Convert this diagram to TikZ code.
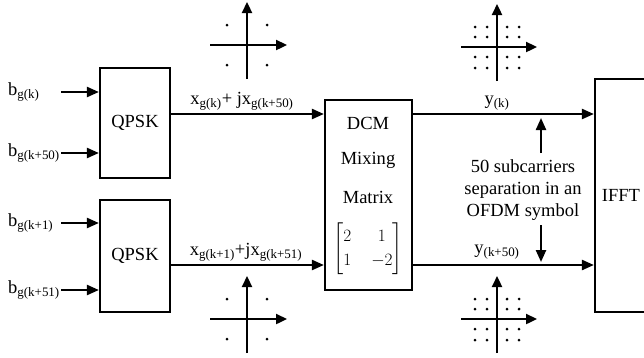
\documentclass[tikz,border=0pt]{standalone}
\usepackage{fontspec}
\setmainfont{Liberation Serif}
\usepackage{amsmath}
\usetikzlibrary{arrows.meta}

\begin{document}
\begin{tikzpicture}[x=1pt, y=-1pt,
    block/.style={rectangle, draw, line width=2.2pt, inner sep=0pt,
                  font=\fontsize{18.5}{22}\selectfont},
    txt/.style={inner sep=0pt, font=\fontsize{18.5}{22}\selectfont},
    arr/.style={-{Triangle[length=12pt, width=10pt]}, line width=2.3pt},
    axis/.style={-{Triangle[length=11pt, width=10pt]}, line width=2.3pt}
  ]
    \useasboundingbox (0,0) rectangle (644,357);
    \clip (0,0) rectangle (644,357);

    %% Blocks
    \node[block, minimum width=70pt, minimum height=110pt] (qpskA) at (135,123) {QPSK};
    \node[block, minimum width=70pt, minimum height=112pt] (qpskB) at (135,256) {QPSK};
    \node[block, minimum width=87pt, minimum height=190pt] (dcm) at (368.5,195) {};
    \node[block, minimum width=52pt, minimum height=233pt] (ifft) at (621,195.5) {IFFT};

    \node[txt] (dcmA) at (368,123) {DCM};
    \node[txt] (dcmB) at (368,160) {Mixing};
    \node[txt] (dcmC) at (368,197) {Matrix};
    \node[txt] (dcmM) at (368,249) {\setlength{\arraycolsep}{10pt}\renewcommand{\arraystretch}{1.1}%
      $\begin{bmatrix}2 & 1\\ 1 & -2\end{bmatrix}$};

    %% Input bits
    \node[txt, anchor=west] (bA) at (8,92) {b\textsubscript{g(k)}};
    \node[txt, anchor=west] (bB) at (8,153) {b\textsubscript{g(k+50)}};
    \node[txt, anchor=west] (bC) at (8,223) {b\textsubscript{g(k+1)}};
    \node[txt, anchor=west] (bD) at (8,290) {b\textsubscript{g(k+51)}};
    \coordinate (inA) at (61,92);
    \coordinate (inB) at (61,153);
    \coordinate (inC) at (61,223);
    \coordinate (inD) at (61,290);
    \draw[arr] (inA) -- (inA -| qpskA.west);
    \draw[arr] (inB) -- (inB -| qpskA.west);
    \draw[arr] (inC) -- (inC -| qpskB.west);
    \draw[arr] (inD) -- (inD -| qpskB.west);

    %% Symbols into and out of the mixing matrix
    \coordinate (rowA) at (0,114);
    \coordinate (rowB) at (0,265);
    \draw[arr] (qpskA.east |- rowA) -- (dcm.west |- rowA);
    \draw[arr] (qpskB.east |- rowB) -- (dcm.west |- rowB);
    \draw[arr] (dcm.east |- rowA) -- (ifft.west |- rowA);
    \draw[arr] (dcm.east |- rowB) -- (ifft.west |- rowB);
    \node[txt] (xA) at (242,101) {x\textsubscript{g(k)}+ jx\textsubscript{g(k+50)}};
    \node[txt] (xB) at (246,252) {x\textsubscript{g(k+1)}+jx\textsubscript{g(k+51)}};
    \node[txt] (yA) at (497,103) {y\textsubscript{(k)}};
    \node[txt] (yB) at (497,252) {y\textsubscript{(k+50)}};

    %% Subcarrier spacing note
    \node[txt, align=center] (note) at (523,190) {50 subcarriers\\separation in an\\OFDM symbol};
    \coordinate (upTail) at (541,153);
    \coordinate (upTip) at (541,118);
    \coordinate (dnTail) at (541,225);
    \coordinate (dnTip) at (541,262);
    \draw[arr] (upTail) -- (upTip);
    \draw[arr] (dnTail) -- (dnTip);

    %% QPSK constellations
    \foreach \cx/\cy in {247/45, 247/319} {
      \draw[axis] (\cx,\cy+34) -- (\cx,\cy-43);
      \draw[axis] (\cx-37,\cy) -- (\cx+40,\cy);
      \foreach \dx in {-20,20}
        \foreach \dy in {-20,20}
          \fill (\cx+\dx,\cy+\dy) circle (1.5pt);
    }

    %% 16-QAM constellations
    \foreach \cx/\cy in {497/47, 497/319} {
      \draw[axis] (\cx,\cy+34) -- (\cx,\cy-43);
      \draw[axis] (\cx-36,\cy) -- (\cx+40,\cy);
      \foreach \dx in {-22,-10,10,22}
        \foreach \dy in {-20,-10,10,21}
          \fill (\cx+\dx,\cy+\dy) circle (1.5pt);
    }
  \end{tikzpicture}
\end{document}
